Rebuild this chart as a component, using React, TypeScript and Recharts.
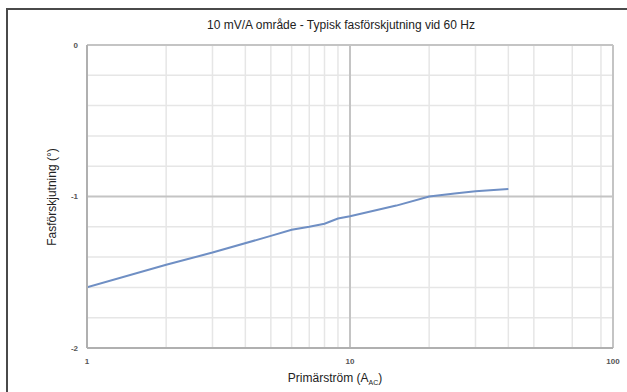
import React from 'react';
import { LineChart, Line, XAxis, YAxis, CartesianGrid, ReferenceLine } from 'recharts';

// Primary current (A AC) and the matching phase shift (degrees)
const currents = [1, 2, 3, 5, 6, 7, 8, 9, 10, 15, 20, 25, 30, 40];
const phaseShift = [-1.6, -1.45, -1.37, -1.26, -1.22, -1.2, -1.18, -1.145, -1.13, -1.06, -1.0, -0.98, -0.965, -0.95];

const xTicks = [1, 10, 100];
const yTicks = [-2, -1, 0];
const xMinor = [2, 3, 4, 5, 6, 7, 8, 9, 20, 30, 40, 50, 60, 70, 80, 90];
const yMinor = [-1.8, -1.6, -1.4, -1.2, -0.8, -0.6, -0.4, -0.2];

const data = currents.map((c, i) => ({ current: c, phase: phaseShift[i] }));

const FONT = '"Liberation Sans Narrow", "Arial Narrow", "Liberation Sans", Arial, sans-serif';
const MAJOR = '#c4c4c4';
const MINOR = '#e6e6e6';

export default function App() {
  return (
    <div style={{ position: 'absolute', left: 0, top: 0, width: 627, height: 392, background: '#fff', overflow: 'hidden', fontFamily: FONT }}>
      {/* frame: only the top and left edges fall inside the view */}
      <div style={{ position: 'absolute', left: 6, top: 8, width: 700, height: 500, borderTop: '2px solid #4a4a4a', borderLeft: '2px solid #4a4a4a' }} />
      <div style={{ position: 'absolute', left: 0, width: 682, top: 18, textAlign: 'center', fontSize: 12, color: '#222' }}>
        10 mV/A område - Typisk fasförskjutning vid 60 Hz
      </div>
      <div style={{ position: 'absolute', left: 52, top: 197, transform: 'translate(-50%, -50%) rotate(-90deg)', whiteSpace: 'nowrap', fontSize: 12, color: '#222' }}>
        Fasförskjutning (°)
      </div>
      <div style={{ position: 'absolute', left: 0, width: 670, top: 371, textAlign: 'center', fontSize: 12, color: '#222' }}>
        Primärström (A<sub style={{ fontSize: 7 }}>AC</sub>)
      </div>
      <div style={{ position: 'absolute', left: 0, top: 0 }}>
        <LineChart width={627} height={392} data={data} margin={{ top: 45, right: 14, bottom: 14, left: 47 }}>
          <CartesianGrid
            horizontalValues={yMinor}
            verticalValues={xMinor}
            stroke={MINOR}
            strokeWidth={1.5}
          />
          <XAxis
            dataKey="current"
            type="number"
            scale="log"
            domain={[1, 100]}
            ticks={xTicks}
            allowDataOverflow
            height={30}
            tickSize={0}
            tickMargin={10}
            axisLine={{ stroke: '#b0b0b0', strokeWidth: 2 }}
            tick={{ fill: '#555', fontSize: 8, fontWeight: 'bold', fontFamily: FONT }}
          />
          <YAxis
            type="number"
            domain={[-2, 0]}
            ticks={yTicks}
            width={40}
            tickSize={0}
            tickMargin={9}
            axisLine={{ stroke: '#b0b0b0', strokeWidth: 2 }}
            tick={{ fill: '#555', fontSize: 8, fontWeight: 'bold', fontFamily: FONT }}
          />
          {yTicks.filter((v) => v !== -2).map((v) => (
            <ReferenceLine key={`y${v}`} y={v} stroke={MAJOR} strokeWidth={2} />
          ))}
          {xTicks.filter((v) => v !== 1).map((v) => (
            <ReferenceLine key={`x${v}`} x={v} stroke={MAJOR} strokeWidth={2} />
          ))}
          <Line
            type="linear"
            dataKey="phase"
            stroke="#6f8fc4"
            strokeWidth={2}
            dot={false}
            isAnimationActive={false}
          />
        </LineChart>
      </div>
    </div>
  );
}
